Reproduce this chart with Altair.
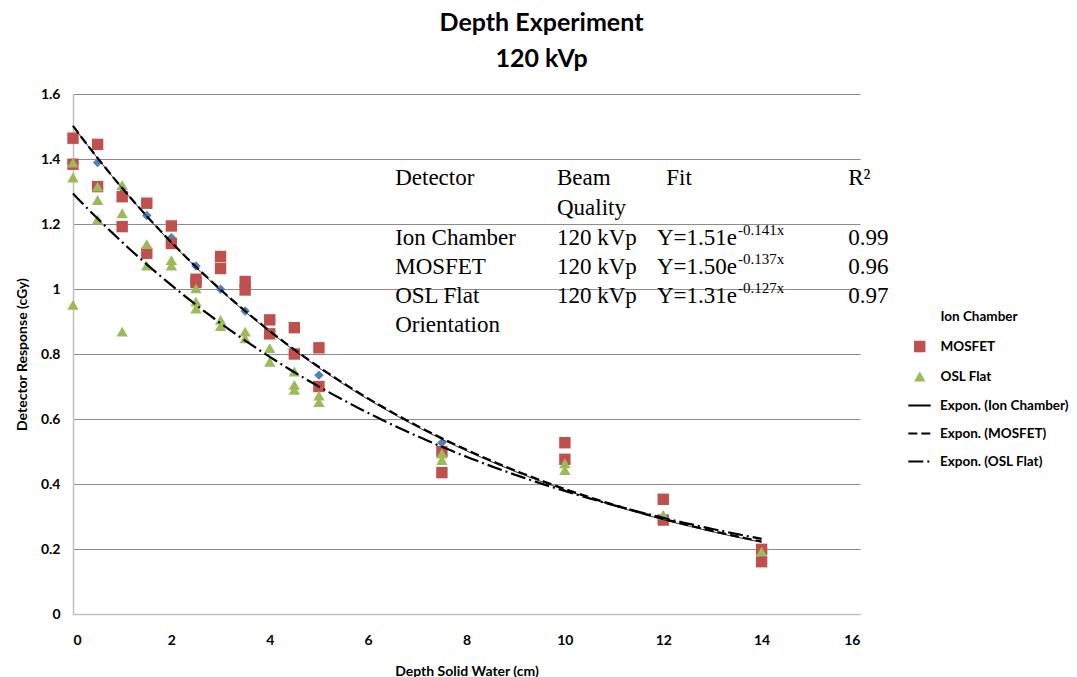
import altair as alt
import pandas as pd

# ---------------- data ----------------
depth_ion = [0, 0.5, 1, 1.5, 2, 2.5, 3, 3.5, 4, 4.5, 5, 7.5, 10, 12, 14]
resp_ion = [1.46, 1.389, 1.31, 1.226, 1.158, 1.071, 0.999, 0.932, 0.862, 0.80,
            0.735, 0.527, 0.47, 0.29, 0.195]

depth_mosfet = [0, 0, 0.5, 0.5, 1, 1, 1.5, 1.5, 2, 2, 2.5, 2.5, 3, 3, 3.5, 3.5,
                4, 4, 4.5, 4.5, 5, 5, 7.5, 7.5, 10, 10, 12, 12, 14, 14]
resp_mosfet = [1.464, 1.384, 1.445, 1.315, 1.284, 1.192, 1.264, 1.11, 1.194, 1.14,
               1.03, 1.02, 1.10, 1.063, 1.023, 0.997, 0.905, 0.862, 0.881, 0.80,
               0.819, 0.70, 0.50, 0.435, 0.527, 0.476, 0.353, 0.289, 0.199, 0.161]

depth_osl = [0, 0, 0, 0.5, 0.5, 0.5, 1, 1, 1, 1.5, 1.5, 2, 2, 2.5, 2.5, 2.5, 3, 3,
             3.5, 3.5, 4, 4, 4.5, 4.5, 4.5, 5, 5, 7.5, 7.5, 10, 10, 12, 14]
resp_osl = [1.389, 1.343, 0.951, 1.315, 1.274, 1.214, 1.32, 1.233, 0.869, 1.138,
            1.072, 1.089, 1.072, 1.002, 0.961, 0.94, 0.905, 0.886, 0.869, 0.848,
            0.818, 0.776, 0.746, 0.705, 0.69, 0.672, 0.652, 0.494, 0.474, 0.464,
            0.443, 0.305, 0.192]

series_names = ["Ion Chamber", "MOSFET", "OSL Flat"]
series_colors = ["#4F81BD", "#C0504D", "#9BBB59"]
fit_names = ["Expon. (Ion Chamber)", "Expon. (MOSFET)", "Expon. (OSL Flat)"]

x_ticks = [0, 2, 4, 6, 8, 10, 12, 14, 16]
y_ticks = [0, 0.2, 0.4, 0.6, 0.8, 1.0, 1.2, 1.4, 1.6]

# table annotation content
tbl_detector = ["Detector", "", "Ion Chamber", "MOSFET", "OSL Flat", "Orientation"]
tbl_beam = ["Beam", "Quality", "120 kVp", "120 kVp", "120 kVp", ""]
tbl_fit_head = ["Fit", "", "", "", "", ""]
tbl_fit_base = ["", "", "Y=1.51e", "Y=1.50e", "Y=1.31e", ""]
tbl_fit_exp = ["", "", "-0.141x", "-0.137x", "-0.127x", ""]
tbl_r2 = ["R\u00b2", "", "0.99", "0.96", "0.97", ""]

# table layout (in axis units)
row_pos = [1.342, 1.249, 1.157, 1.068, 0.978, 0.889]
col_detector, col_beam, col_fit, col_fit_sup, col_r2 = 6.55, 9.84, 12.06, 13.50, 15.76

# ---------------- build tables ----------------
pts = pd.DataFrame({
    "depth": depth_ion + depth_mosfet + depth_osl,
    "resp": resp_ion + resp_mosfet + resp_osl,
    "series": ["Ion Chamber"] * len(depth_ion) + ["MOSFET"] * len(depth_mosfet)
              + ["OSL Flat"] * len(depth_osl),
})

rows = []
for col, texts, align in [(col_detector, tbl_detector, "left"),
                          (col_beam, tbl_beam, "left"),
                          (col_fit, tbl_fit_head, "left"),
                          (col_fit_sup, tbl_fit_base, "right"),
                          (col_r2, tbl_r2, "left")]:
    for t, r in zip(texts, row_pos):
        if t:
            rows.append({"depth": col, "resp": r, "txt": t, "al": align})
tbl = pd.DataFrame(rows)
sup = pd.DataFrame([{"depth": col_fit_sup, "resp": r, "txt": t}
                    for t, r in zip(tbl_fit_exp, row_pos) if t])

FONT = "Lato"
x_enc = alt.X("depth:Q", scale=alt.Scale(domain=[0, 16], nice=False),
              axis=alt.Axis(values=x_ticks, format="~g", grid=False, ticks=False,
                            title="Depth Solid Water (cm)"))
y_enc = alt.Y("resp:Q", scale=alt.Scale(domain=[0, 1.6], nice=False),
              axis=alt.Axis(values=y_ticks, format="~g", grid=True, ticks=False,
                            title="Detector Response (cGy)"))

base = alt.Chart(pts)

ion_layer = base.transform_filter(alt.datum.series == "Ion Chamber").mark_point(
    shape="diamond", filled=True, size=90, opacity=1, color="#4F81BD"
).encode(x=x_enc, y=y_enc)

LEG_FS = 13.5
legend_pts = alt.Legend(title=None, orient="none", legendX=840, legendY=215,
                        labelFont=FONT, labelFontWeight="bold", labelFontSize=LEG_FS,
                        labelColor="black", symbolSize=130, labelOffset=14,
                        clipHeight=15, rowPadding=15, symbolStrokeWidth=0)

pts_layer = base.transform_filter(alt.datum.series != "Ion Chamber").mark_point(
    filled=True, size=130, opacity=1
).encode(
    x=x_enc, y=y_enc,
    color=alt.Color("series:N", scale=alt.Scale(domain=series_names, range=series_colors),
                    legend=legend_pts),
    shape=alt.Shape("series:N", scale=alt.Scale(domain=series_names,
                                                range=["M0,0", "square", "triangle-up"]),
                    legend=legend_pts),
)

legend_fit = alt.Legend(title=None, orient="none", legendX=834, legendY=304,
                        labelFont=FONT, labelFontWeight="bold", labelFontSize=LEG_FS,
                        labelColor="black", symbolSize=500, labelOffset=8,
                        clipHeight=15, rowPadding=13, symbolStrokeWidth=2,
                        symbolStrokeColor="black")

# Excel-style exponential trendline: least squares on ln(y)
lines_layer = base.transform_calculate(
    logy="log(datum.resp)"
).transform_regression(
    "depth", "logy", method="linear", groupby=["series"], params=True
).transform_calculate(
    xs="sequence(0, 14.05, 0.1)",
    grp="datum.keys[0]",
).transform_flatten(["xs"]).transform_calculate(
    depth="datum.xs",
    resp="exp(datum.coef[0] + datum.coef[1] * datum.xs)",
    fit="'Expon. (' + datum.grp + ')'",
).mark_line(color="black").encode(
    x=x_enc, y=y_enc,
    strokeDash=alt.StrokeDash("fit:N", scale=alt.Scale(
        domain=fit_names, range=[[1, 0], [9, 4], [15, 4, 2, 4]]), legend=legend_fit),
    strokeWidth=alt.when(alt.datum.grp == "Ion Chamber").then(alt.value(0.9))
                   .otherwise(alt.value(2.2)),
    order="depth:Q",
)

text_left = alt.Chart(tbl).transform_filter(alt.datum.al == "left").mark_text(
    font="Liberation Serif", fontSize=23, baseline="middle", align="left", color="black"
).encode(x=x_enc, y=y_enc, text="txt:N")
text_right = alt.Chart(tbl).transform_filter(alt.datum.al == "right").mark_text(
    font="Liberation Serif", fontSize=23, baseline="middle", align="right", color="black"
).encode(x=x_enc, y=y_enc, text="txt:N")
sup_layer = alt.Chart(sup).mark_text(
    font="Liberation Serif", fontSize=15, baseline="middle", align="left", dx=1, dy=-8,
    color="black"
).encode(x=x_enc, y=y_enc, text="txt:N")

chart = alt.layer(
    ion_layer, pts_layer, lines_layer, text_left, text_right, sup_layer
).properties(
    width=787, height=520,
    autosize="none",
    padding={"left": 73, "top": 94, "right": 217, "bottom": 63},
    title=alt.TitleParams(["Depth Experiment", "120 kVp"], font=FONT, fontSize=25,
                          fontWeight="bold", color="black", anchor="middle",
                          frame="group", dx=75, lineHeight=36, offset=15),
).configure_view(stroke=None).configure_axis(
    labelFont=FONT, labelFontWeight="bold", labelFontSize=14, labelColor="black",
    titleFont=FONT, titleFontWeight="bold", titleFontSize=14, titleColor="black",
    domainColor="#BFBFBF", domainWidth=1.5, gridColor="#8C8C8C", gridWidth=1,
).configure_axisX(labelPadding=19, titlePadding=17).configure_axisY(
    labelPadding=13, titlePadding=11)

chart.save("out.html", embed_options={"renderer": "svg", "actions": False})
